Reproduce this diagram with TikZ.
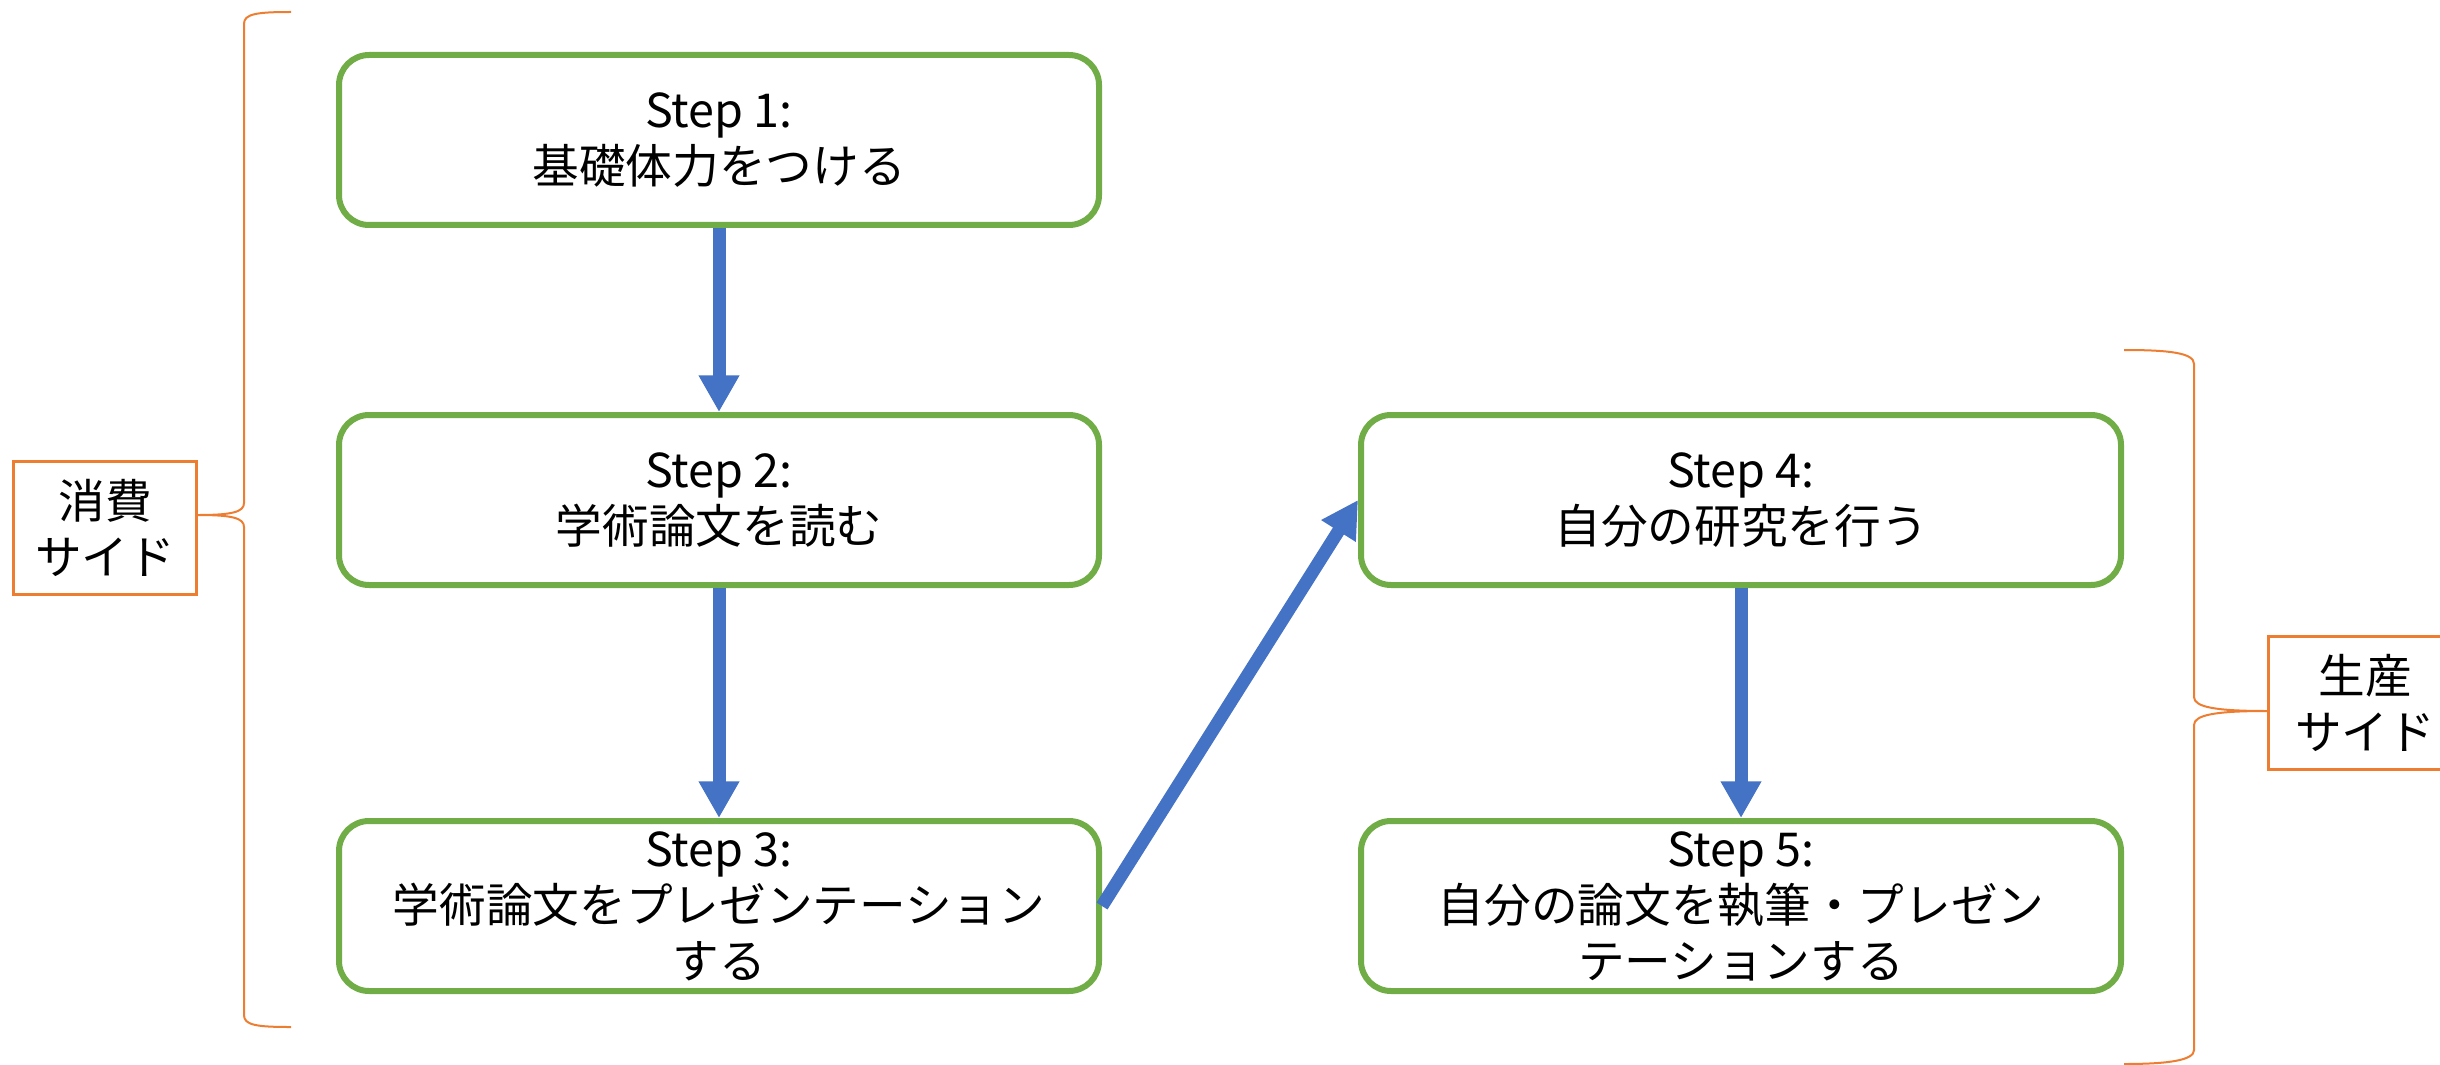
\documentclass[tikz,border=0pt]{standalone}
\usepackage{fontspec}
\setmainfont{Noto Sans CJK JP}
\usetikzlibrary{arrows.meta}
\definecolor{stepgreen}{HTML}{70AD47}
\definecolor{flowblue}{HTML}{4472C4}
\definecolor{sideorange}{HTML}{ED7D31}
\tikzset{
  stepbox/.style={draw=stepgreen, line width=1.8pt, rounded corners=9pt, fill=white,
    minimum width=228pt, minimum height=51pt, align=center, inner sep=0pt,
    font=\fontsize{14pt}{16.8pt}\selectfont},
  sidebox/.style={draw=sideorange, line width=0.9pt, fill=white,
    minimum width=55pt, minimum height=40pt, align=center, inner sep=0pt,
    font=\fontsize{14pt}{16.8pt}\selectfont},
  flow/.style={draw=flowblue, line width=3.9pt, -{Triangle[width=11.5pt,length=11pt]}},
  bracepath/.style={draw=sideorange, line width=0.6pt}
}
\begin{document}
\begin{tikzpicture}[x=0.3pt,y=-0.3pt]
\useasboundingbox (0,0) rectangle (2440,1064);
% step boxes
\node[stepbox] (s1) at (719,140) {Step 1:\\基礎体力をつける};
\node[stepbox] (s2) at (719,500) {Step 2:\\学術論文を読む};
\node[stepbox] (s3) at (719,906) {Step 3:\\学術論文をプレゼンテーション\\する};
\node[stepbox] (s4) at (1741,500) {Step 4:\\自分の研究を行う};
\node[stepbox] (s5) at (1741,906) {Step 5:\\自分の論文を執筆・プレゼン\\テーションする};
% arrows
\draw[flow] (s1.south) -- (s2.north);
\draw[flow] (s2.south) -- (s3.north);
\draw[flow] (s4.south) -- (s5.north);
\draw[flow] (s3.east) -- (s4.west);
% side labels
\node[sidebox] (lc) at (105,528) {消費\\サイド};
\node[sidebox, minimum width=58pt, anchor=west] (lp) at (2267,703) {生産\\サイド};
% braces
\coordinate (ltip) at (lc.east |- 0,515);
\coordinate (rtip) at (lp.west |- 0,711);
\draw[bracepath] (291,12) .. controls (256,12) and (244,14) .. (244,24)
  -- (244,503) .. controls (244,512) and (232,515) .. (ltip)
  .. controls (232,515) and (244,518) .. (244,527)
  -- (244,1015) .. controls (244,1025) and (256,1027) .. (291,1027);
\draw[bracepath] (2124,350) .. controls (2170,350) and (2194,353) .. (2194,364)
  -- (2194,697) .. controls (2194,707) and (2215,711) .. (rtip)
  .. controls (2215,711) and (2194,715) .. (2194,725)
  -- (2194,1050) .. controls (2194,1060) and (2170,1064) .. (2124,1064);
\end{tikzpicture}
\end{document}
